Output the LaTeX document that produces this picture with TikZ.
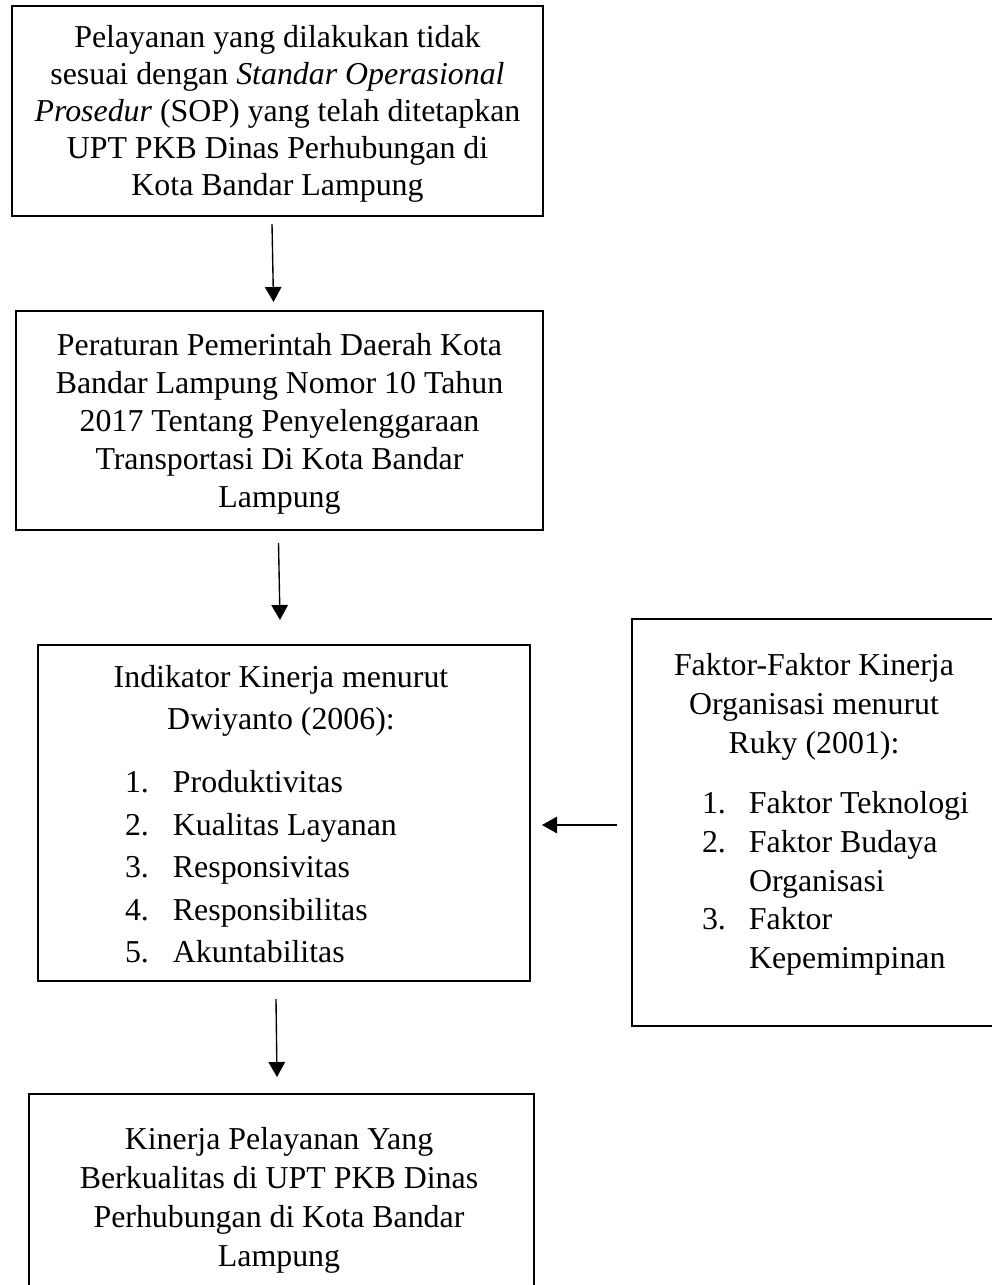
\documentclass[tikz,border=0pt]{standalone}
\usepackage{fontspec}
\setmainfont{Liberation Serif}
\usetikzlibrary{arrows.meta,calc}
\tikzset{
  box/.style={draw, line width=1.1pt, inner sep=0pt, outer sep=0pt, rectangle},
  txt/.style={inner sep=0pt, outer sep=0pt, align=center},
  lst/.style={inner sep=0pt, outer sep=0pt, align=left},
  arr/.style={line width=0.55pt, -{Triangle[length=6pt,width=6.6pt]}},
}
\newcommand{\myfs}[1]{\fontsize{12.75pt}{#1}\selectfont}
\newcommand{\itemnumA}[1]{\makebox[19.2pt][l]{#1}}
\newcommand{\itemnumB}[1]{\makebox[18.8pt][l]{#1}}
\begin{document}
\begin{tikzpicture}[x=0.4pt,y=-0.4pt]
\useasboundingbox (0,0) rectangle (992,1285);
% boxes
\node[box, minimum width=212.4pt, minimum height=84pt] (b1) at (277.5,111) {};
\node[box, minimum width=210.8pt, minimum height=87.6pt] (b2) at (279.5,420.5) {};
\node[box, minimum width=196.8pt, minimum height=134.4pt] (b3) at (284,813) {};
\node[box, minimum width=148pt, minimum height=162.8pt] (b4) at (817,822.5) {};
\node[box, minimum width=202pt, minimum height=84.4pt] (b5) at (281.5,1199.5) {};
% texts
\node[txt, font=\myfs{14.8pt}] (t1) at (277.5,114) {Pelayanan yang dilakukan tidak\\ sesuai dengan \textit{Standar Operasional}\\ \textit{Prosedur} (SOP) yang telah ditetapkan\\ UPT PKB Dinas Perhubungan di\\ Kota Bandar Lampung};
\node[txt, font=\myfs{15.2pt}] (t2) at (279.5,424) {Peraturan Pemerintah Daerah Kota\\ Bandar Lampung Nomor 10 Tahun\\ 2017 Tentang Penyelenggaraan\\ Transportasi Di Kota Bandar\\ Lampung};
\node[txt, font=\myfs{16.8pt}] (t3h) at (281,700.5) {Indikator Kinerja menurut\\ Dwiyanto (2006):};
\node[lst, font=\myfs{17pt}, anchor=west] (t3l) at (125,870) {\itemnumA{1.}Produktivitas\\ \itemnumA{2.}Kualitas Layanan\\ \itemnumA{3.}Responsivitas\\ \itemnumA{4.}Responsibilitas\\ \itemnumA{5.}Akuntabilitas\vphantom{p}};
\node[txt, font=\myfs{15.6pt}] (t4h) at (814,707) {Faktor-Faktor Kinerja\\ Organisasi menurut\\ Ruky (2001):};
\node[lst, font=\myfs{15.5pt}, anchor=west] (t4l) at (702,883.5) {\itemnumB{1.}Faktor Teknologi\\ \itemnumB{2.}Faktor Budaya\\ \itemnumB{}Organisasi\\ \itemnumB{3.}Faktor\\ \itemnumB{}Kepemimpinan};
\node[txt, font=\myfs{15.6pt}] (t5) at (279,1200.5) {Kinerja Pelayanan Yang\\ Berkualitas di UPT PKB Dinas\\ Perhubungan di Kota Bandar\\ Lampung};
% connectors
\draw[arr] ($(b1.south)+(-5.5,8)$) -- ($(b2.north)+(-6,-9)$);
\draw[arr] ($(b2.south)+(-1,13)$) -- ($(b3.north)+(-4,-25)$);
\draw[arr] ($(b3.south)+(-8,18)$) -- ($(b5.north)+(-4.5,-17)$);
\draw[arr] ($(b4.west)+(-15,2.5)$) -- ($(b3.east)+(12,12)$);
\end{tikzpicture}
\end{document}
